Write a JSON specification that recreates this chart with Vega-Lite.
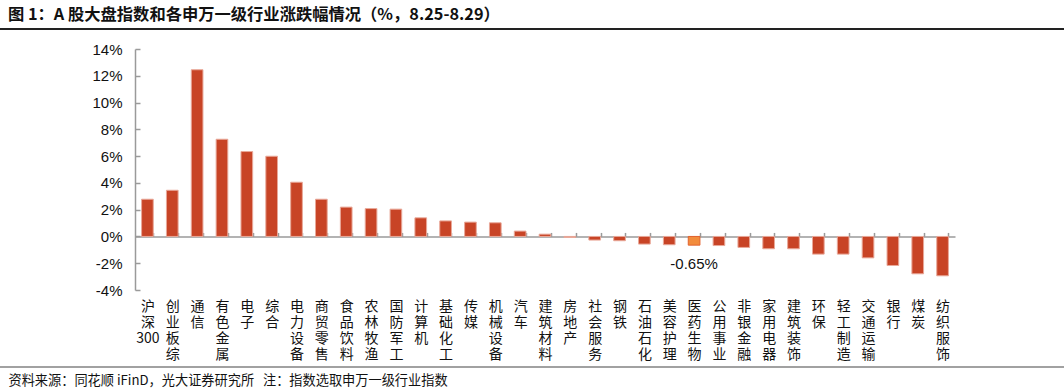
{
  "$schema": "https://vega.github.io/schema/vega-lite/v6.json",
  "autosize": "none",
  "width": 820,
  "height": 241,
  "padding": {"left": 135, "top": 49, "right": 109, "bottom": 102},
  "background": "white",
  "config": {"view": {"stroke": null}},
  "title": {
    "text": "图 1：A 股大盘指数和各申万一级行业涨跌幅情况（%，8.25-8.29）",
    "anchor": "start",
    "frame": "group",
    "dx": -127,
    "offset": 5,
    "font": "Noto Sans CJK SC",
    "fontSize": 16.3,
    "fontWeight": "bold",
    "color": "#111"
  },
  "data": {
    "values": [
      {"name": "沪深300", "value": 2.78},
      {"name": "创业板综", "value": 3.45},
      {"name": "通信", "value": 12.45},
      {"name": "有色金属", "value": 7.26},
      {"name": "电子", "value": 6.34},
      {"name": "综合", "value": 5.99},
      {"name": "电力设备", "value": 4.05},
      {"name": "商贸零售", "value": 2.78},
      {"name": "食品饮料", "value": 2.19},
      {"name": "农林牧渔", "value": 2.08},
      {"name": "国防军工", "value": 2.04},
      {"name": "计算机", "value": 1.39},
      {"name": "基础化工", "value": 1.16},
      {"name": "传媒", "value": 1.07},
      {"name": "机械设备", "value": 1.02},
      {"name": "汽车", "value": 0.40},
      {"name": "建筑材料", "value": 0.17},
      {"name": "房地产", "value": -0.08},
      {"name": "社会服务", "value": -0.27},
      {"name": "钢铁", "value": -0.32},
      {"name": "石油石化", "value": -0.57},
      {"name": "美容护理", "value": -0.62},
      {"name": "医药生物", "value": -0.65},
      {"name": "公用事业", "value": -0.68},
      {"name": "非银金融", "value": -0.82},
      {"name": "家用电器", "value": -0.92},
      {"name": "建筑装饰", "value": -0.92},
      {"name": "环保", "value": -1.32},
      {"name": "轻工制造", "value": -1.32},
      {"name": "交通运输", "value": -1.60},
      {"name": "银行", "value": -2.17},
      {"name": "煤炭", "value": -2.79},
      {"name": "纺织服饰", "value": -2.94}
    ]
  },
  "encoding": {
    "x": {
      "field": "name",
      "type": "nominal",
      "sort": null,
      "scale": {"paddingInner": 0.53, "paddingOuter": 0.265},
      "axis": {
        "orient": "bottom",
        "offset": -53.56,
        "domainColor": "#9a9a9a",
        "domainWidth": 1.5,
        "tickColor": "#9a9a9a",
        "tickWidth": 1.5,
        "tickSize": -4,
        "tickBand": "extent",
        "labelAngle": 0,
        "labelAlign": "center",
        "labelBaseline": "top",
        "labelPadding": 67,
        "labelFont": "Noto Sans CJK SC",
        "labelFontSize": 14,
        "labelLineHeight": 16,
        "labelColor": "#111",
        "labelExpr": "datum.label === '沪深300' ? ['沪', '深', '300'] : split(datum.label, '')",
        "labelOverlap": false,
        "labelBound": false,
        "title": "资料来源：同花顺 iFinD，光大证券研究所\u00a0\u00a0\u00a0注：指数选取申万一级行业指数",
        "titleX": -127,
        "titleY": 144.5,
        "titleAlign": "left",
        "titleAnchor": "start",
        "titleBaseline": "middle",
        "titleFont": "Noto Sans CJK SC",
        "titleFontSize": 13.2,
        "titleFontWeight": "normal",
        "titleColor": "#111"
      }
    },
    "y": {
      "field": "value",
      "type": "quantitative",
      "scale": {"domain": [-4, 14], "nice": false, "zero": false},
      "axis": {
        "values": [-4, -2, 0, 2, 4, 6, 8, 10, 12, 14],
        "labelExpr": "datum.value + '%'",
        "labelOverlap": false,
        "grid": false,
        "title": null,
        "domainColor": "#9a9a9a",
        "domainWidth": 1.5,
        "tickColor": "#9a9a9a",
        "tickWidth": 1.5,
        "tickSize": -5,
        "labelPadding": 18,
        "labelFont": "Liberation Sans",
        "labelFontSize": 15,
        "labelColor": "#111"
      }
    }
  },
  "layer": [
    {
      "mark": {"type": "bar", "strokeWidth": 1},
      "encoding": {
        "y2": {"datum": 0},
        "fill": {
          "condition": {"test": "datum.name === '医药生物'", "value": "#F28C3C"},
          "value": "#C84426"
        },
        "stroke": {
          "condition": {"test": "datum.name === '医药生物'", "value": "#E2622E"},
          "value": "#E9A899"
        }
      }
    },
    {
      "transform": [
        {"filter": "datum.name === '医药生物'"},
        {"calculate": "datum.value + '%'", "as": "label"}
      ],
      "mark": {
        "type": "text",
        "baseline": "middle",
        "align": "center",
        "dy": 19,
        "font": "Liberation Sans",
        "fontSize": 15,
        "color": "#111"
      },
      "encoding": {
        "text": {"field": "label", "type": "nominal"}
      }
    },
    {
      "transform": [{"filter": "datum.name === '沪深300'"}],
      "mark": {"type": "rule", "color": "#222", "strokeWidth": 2},
      "encoding": {
        "x": {"value": -135},
        "x2": {"value": 929},
        "y": {"value": -20}
      }
    },
    {
      "transform": [{"filter": "datum.name === '沪深300'"}],
      "mark": {"type": "rule", "color": "#444", "strokeWidth": 1.2},
      "encoding": {
        "x": {"value": -135},
        "x2": {"value": 929},
        "y": {"value": 318}
      }
    }
  ]
}
